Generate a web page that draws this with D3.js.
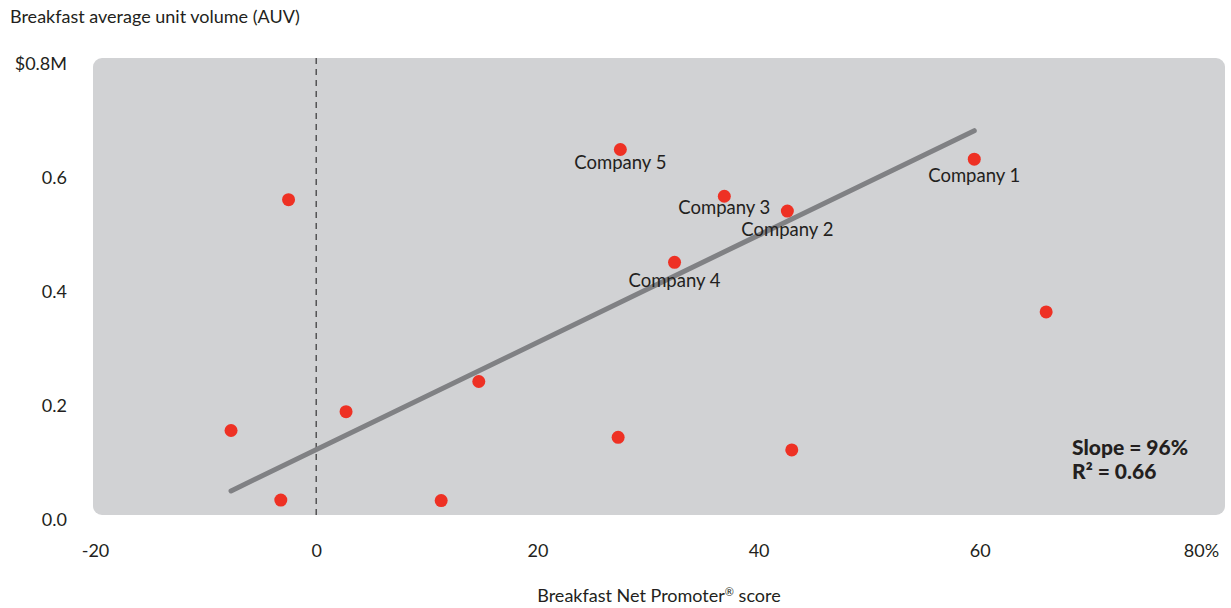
<!DOCTYPE html>
<html>
<head>
<meta charset="utf-8">
<script src="https://cdn.jsdelivr.net/npm/d3@7"></script>
<style>
  body { margin: 0; background: #fff; }
  text { font-family: "Lato", "Noto Sans", sans-serif; fill: #231f20; }
</style>
</head>
<body>
<svg width="1231" height="608"></svg>
<script>
(function () {
  "use strict";
  // data
  const npsScores = [-7.7, -3.2, -2.5, 2.7, 11.3, 14.7, 27.5, 27.3, 32.4, 36.9, 42.6, 43.0, 59.5, 66.0];
  const auvValues = [0.157, 0.035, 0.562, 0.19, 0.034, 0.243, 0.65, 0.145, 0.452, 0.568, 0.542, 0.123, 0.633, 0.365];
  const pointNames = ["", "", "", "", "", "", "Company 5", "", "Company 4", "Company 3", "Company 2", "", "Company 1", ""];
  const trendX = [-7.7, 59.5];
  const trendY = [0.051, 0.683];
  const xTicks = [-20, 0, 20, 40, 60, 80];
  const yTicks = [0, 0.2, 0.4, 0.6, 0.8];

  const svg = d3.select("svg");

  const x = d3.scaleLinear().domain([-20, 80]).range([95, 1201]);
  const y = d3.scaleLinear().domain([0, 0.8]).range([520, 64]);

  // plot background
  svg.append("rect")
    .attr("x", 93).attr("y", 58)
    .attr("width", 1225 - 93).attr("height", 515 - 58)
    .attr("rx", 9).attr("ry", 9)
    .attr("fill", "#d1d2d4");

  // zero line
  svg.append("line")
    .attr("x1", x(0)).attr("x2", x(0))
    .attr("y1", 58).attr("y2", 515)
    .attr("stroke", "#404041")
    .attr("stroke-width", 1.3)
    .attr("stroke-dasharray", "6,5");

  // axes
  const xAxis = svg.append("g")
    .attr("transform", "translate(0,541)")
    .call(d3.axisBottom(x).tickValues(xTicks).tickSize(0)
      .tickFormat(d => d === 80 ? "80%" : d));
  xAxis.select(".domain").remove();
  xAxis.selectAll("text").style("font-size", "18px").style("font-weight", 400).attr("fill", "#231f20");

  const yAxis = svg.append("g")
    .attr("transform", "translate(67,0)")
    .call(d3.axisLeft(y).tickValues(yTicks).tickSize(0)
      .tickFormat(d => d === 0.8 ? "$0.8M" : d3.format(".1f")(d)));
  yAxis.select(".domain").remove();
  yAxis.selectAll("text").style("font-size", "18px").style("font-weight", 400).attr("fill", "#231f20")
    .attr("x", 0);

  // trend line
  svg.append("line")
    .attr("x1", x(trendX[0])).attr("y1", y(trendY[0]))
    .attr("x2", x(trendX[1])).attr("y2", y(trendY[1]))
    .attr("stroke", "#808184")
    .attr("stroke-width", 5)
    .attr("stroke-linecap", "round");

  const points = npsScores.map((v, i) => ({ nps: v, auv: auvValues[i], name: pointNames[i] }));

  svg.append("g").selectAll("circle")
    .data(points)
    .join("circle")
    .attr("cx", d => x(d.nps))
    .attr("cy", d => y(d.auv))
    .attr("r", 6.5)
    .attr("fill", "#ee3124");

  const labelDy = { "Company 1": 23, "Company 2": 25, "Company 3": 18, "Company 4": 25, "Company 5": 19 };
  svg.append("g").selectAll("text")
    .data(points.filter(d => d.name))
    .join("text")
    .attr("x", d => x(d.nps))
    .attr("y", d => y(d.auv) + labelDy[d.name])
    .attr("text-anchor", "middle")
    .style("font-size", "18.5px")
    .style("font-weight", 400)
    .text(d => d.name);

  // stats
  const stats = svg.append("text")
    .attr("x", 1072).attr("y", 455)
    .style("font-size", "21px").style("font-weight", 900);
  stats.append("tspan").attr("x", 1072).text("Slope = 96%");
  stats.append("tspan").attr("x", 1072).attr("dy", 24).text("R² = 0.66");

  // titles
  svg.append("text")
    .attr("x", 10).attr("y", 23)
    .style("font-size", "18px").style("font-weight", 400)
    .text("Breakfast average unit volume (AUV)");

  const xt = svg.append("text")
    .attr("x", 659).attr("y", 602)
    .attr("text-anchor", "middle")
    .style("font-size", "18px").style("font-weight", 400);
  xt.append("tspan").text("Breakfast Net Promoter");
  xt.append("tspan").attr("dy", -6).style("font-size", "11px").text("®");
  xt.append("tspan").attr("dy", 6).text(" score");
})(d3);
</script>
</body>
</html>
